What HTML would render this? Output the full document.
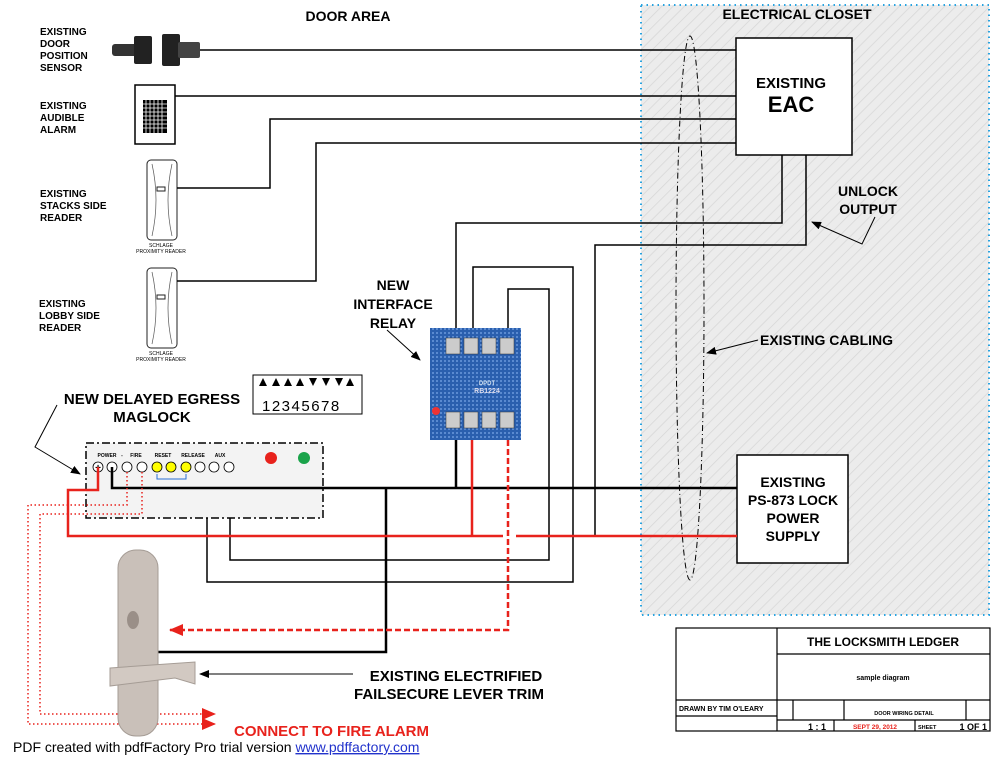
<!DOCTYPE html>
<html><head><meta charset="utf-8"><style>
body{margin:0;background:#fff}
svg{display:block;font-family:"Liberation Sans",Arial,sans-serif;font-weight:bold}
</style></head><body>
<svg width="1000" height="760" viewBox="0 0 1000 760" xmlns="http://www.w3.org/2000/svg">
<defs>
<pattern id="h" width="8" height="8" patternUnits="userSpaceOnUse" patternTransform="rotate(45)">
<rect width="8" height="8" fill="#ececec"/><line x1="0" y1="0" x2="0" y2="8" stroke="#d6d6d6" stroke-width="1.5"/>
</pattern>
<pattern id="pcb" width="4" height="4" patternUnits="userSpaceOnUse">
<rect width="4" height="4" fill="#2a5fae"/><rect width="2" height="2" fill="#5a8ad0"/>
</pattern>
<marker id="a" markerWidth="10" markerHeight="8" refX="9" refY="4" orient="auto" markerUnits="userSpaceOnUse"><path d="M0,0 L10,4 L0,8 Z" fill="#000"/></marker>
<marker id="ar" markerWidth="14" markerHeight="12" refX="13" refY="6" orient="auto" markerUnits="userSpaceOnUse"><path d="M0,0 L14,6 L0,12 Z" fill="#e8221c"/></marker>
</defs>

<rect x="641" y="5" width="348" height="610" fill="url(#h)" stroke="#29a3e0" stroke-width="2" stroke-dasharray="1.5 4"/>
<text x="797" y="19" font-size="14" text-anchor="middle">ELECTRICAL CLOSET</text>
<text x="348" y="21" font-size="14" text-anchor="middle">DOOR AREA</text>

<g font-size="10">
<text x="40" y="35">EXISTING</text><text x="40" y="47">DOOR</text><text x="40" y="59">POSITION</text><text x="40" y="71">SENSOR</text>
<text x="40" y="109">EXISTING</text><text x="40" y="121">AUDIBLE</text><text x="40" y="133">ALARM</text>
<text x="40" y="197">EXISTING</text><text x="40" y="209">STACKS SIDE</text><text x="40" y="221">READER</text>
<text x="39" y="307">EXISTING</text><text x="39" y="319">LOBBY SIDE</text><text x="39" y="331">READER</text>
</g>

<rect x="112" y="44" width="25" height="12" rx="3" fill="#333"/>
<rect x="134" y="36" width="18" height="28" rx="2" fill="#222"/>
<rect x="162" y="34" width="18" height="32" rx="2" fill="#222"/>
<rect x="178" y="42" width="22" height="16" rx="2" fill="#444"/>
<rect x="135" y="85" width="40" height="59" fill="#fff" stroke="#000" stroke-width="1.5"/>
<rect x="143" y="100" width="24" height="33" fill="#000"/>
<g stroke="#fff" stroke-width="0.8">
<line x1="146" y1="100" x2="146" y2="133"/><line x1="150" y1="100" x2="150" y2="133"/><line x1="154" y1="100" x2="154" y2="133"/><line x1="158" y1="100" x2="158" y2="133"/><line x1="162" y1="100" x2="162" y2="133"/>
<line x1="143" y1="104" x2="167" y2="104"/><line x1="143" y1="108" x2="167" y2="108"/><line x1="143" y1="112" x2="167" y2="112"/><line x1="143" y1="116" x2="167" y2="116"/><line x1="143" y1="120" x2="167" y2="120"/><line x1="143" y1="124" x2="167" y2="124"/><line x1="143" y1="128" x2="167" y2="128"/>
</g>
<g fill="#fff" stroke="#222" stroke-width="1">
<rect x="147" y="160" width="30" height="80" rx="4"/><rect x="157" y="187" width="8" height="4"/>
<rect x="147" y="268" width="30" height="80" rx="4"/><rect x="157" y="295" width="8" height="4"/>
</g>
<g fill="none" stroke="#555" stroke-width="0.7">
<path d="M152,164 Q160,200 152,236 M172,164 Q164,200 172,236"/>
<path d="M152,272 Q160,308 152,344 M172,272 Q164,308 172,344"/>
</g>
<g font-size="5" font-weight="normal" text-anchor="middle">
<text x="161" y="247">SCHLAGE</text><text x="161" y="253">PROXIMITY READER</text>
<text x="161" y="355">SCHLAGE</text><text x="161" y="361">PROXIMITY READER</text>
</g>

<rect x="736" y="38" width="116" height="117" fill="#fff" stroke="#000" stroke-width="1.5"/>
<text x="791" y="88" font-size="15" text-anchor="middle">EXISTING</text>
<text x="791" y="112" font-size="22" text-anchor="middle">EAC</text>

<g fill="none" stroke="#000" stroke-width="1.5">
<path d="M200,50 H736"/>
<path d="M175,96 H736"/>
<path d="M177,188 H270 V119 H736"/>
<path d="M177,281 H316 V143 H736"/>
<path d="M782,155 V223 H456 V330"/>
<path d="M806,155 V245 H595 V536"/>
<path d="M157,467 V503 H230 V560 H549 V289 H508 V330"/>
<path d="M171,467 V495 H207 V582 H573 V267 H473 V330"/>
</g>

<ellipse cx="690" cy="308" rx="14" ry="272" fill="none" stroke="#000" stroke-width="1" stroke-dasharray="6 3 1 3"/>

<text x="868" y="196" font-size="14" text-anchor="middle">UNLOCK</text>
<text x="868" y="214" font-size="14" text-anchor="middle">OUTPUT</text>
<path d="M875,217 L862,244 L812,222" fill="none" stroke="#000" stroke-width="1" marker-end="url(#a)"/>
<text x="760" y="345" font-size="14">EXISTING CABLING</text>
<path d="M758,340 L707,353" fill="none" stroke="#000" stroke-width="1" marker-end="url(#a)"/>

<rect x="737" y="455" width="111" height="108" fill="#fff" stroke="#000" stroke-width="1.5"/>
<g font-size="14" text-anchor="middle">
<text x="793" y="487">EXISTING</text><text x="793" y="505">PS-873 LOCK</text><text x="793" y="523">POWER</text><text x="793" y="541">SUPPLY</text>
</g>

<rect x="430" y="328" width="91" height="112" fill="url(#pcb)"/>
<g fill="#ccc" stroke="#333" stroke-width="0.5">
<rect x="446" y="338" width="14" height="16"/><rect x="464" y="338" width="14" height="16"/><rect x="482" y="338" width="14" height="16"/><rect x="500" y="338" width="14" height="16"/>
<rect x="446" y="412" width="14" height="16"/><rect x="464" y="412" width="14" height="16"/><rect x="482" y="412" width="14" height="16"/><rect x="500" y="412" width="14" height="16"/>
</g>
<circle cx="436" cy="411" r="4" fill="#e33"/>
<text x="487" y="385" font-size="6" fill="#cde" text-anchor="middle">DPDT</text>
<text x="487" y="393" font-size="7" fill="#dde" text-anchor="middle">RB1224</text>
<g font-size="14" text-anchor="middle">
<text x="393" y="290">NEW</text><text x="393" y="309">INTERFACE</text><text x="393" y="328">RELAY</text>
</g>
<path d="M387,330 L420,360" fill="none" stroke="#000" stroke-width="1" marker-end="url(#a)"/>

<rect x="253" y="375" width="109" height="39" fill="#fff" stroke="#000" stroke-width="1"/>
<g fill="#000">
<path d="M259,386 l4,-8 l4,8z M272,386 l4,-8 l4,8z M284,386 l4,-8 l4,8z M296,386 l4,-8 l4,8z M309,378 l4,8 l4,-8z M322,378 l4,8 l4,-8z M335,378 l4,8 l4,-8z M346,386 l4,-8 l4,8z"/>
</g>
<text x="262" y="411" font-size="15" font-weight="normal" letter-spacing="1.5">12345678</text>

<text x="152" y="404" font-size="15" text-anchor="middle">NEW DELAYED EGRESS</text>
<text x="152" y="422" font-size="15" text-anchor="middle">MAGLOCK</text>
<path d="M57,405 L35,447 L80,474" fill="none" stroke="#000" stroke-width="1" marker-end="url(#a)"/>
<rect x="86" y="443" width="237" height="75" fill="#f3f3f3" stroke="#000" stroke-width="1.5" stroke-dasharray="8 3 2 3"/>
<g font-size="5" text-anchor="middle">
<text x="107" y="457">POWER</text><text x="122" y="457">-</text><text x="136" y="457">FIRE</text><text x="163" y="457">RESET</text><text x="193" y="457">RELEASE</text><text x="220" y="457">AUX</text>
</g>
<g stroke="#000" stroke-width="0.8">
<circle cx="98" cy="467" r="5" fill="#fff"/><circle cx="112" cy="467" r="5" fill="#fff"/>
<circle cx="127" cy="467" r="5" fill="#fff"/><circle cx="142" cy="467" r="5" fill="#fff"/>
<circle cx="157" cy="467" r="5" fill="#ff0"/><circle cx="171" cy="467" r="5" fill="#ff0"/><circle cx="186" cy="467" r="5" fill="#ff0"/>
<circle cx="200" cy="467" r="5" fill="#fff"/><circle cx="214" cy="467" r="5" fill="#fff"/><circle cx="229" cy="467" r="5" fill="#fff"/>
</g>
<text x="98" y="471" font-size="10" text-anchor="middle">+</text>
<path d="M157,474 V479 H186 V474" fill="none" stroke="#2a6fd6" stroke-width="1"/>
<circle cx="271" cy="458" r="6" fill="#e8221c"/><circle cx="304" cy="458" r="6" fill="#1aa34a"/>

<path d="M112,467 V488 H737" fill="none" stroke="#000" stroke-width="2.5"/>
<path d="M456,440 V488" fill="none" stroke="#000" stroke-width="2.5"/>
<path d="M386,488 V652 H155" fill="none" stroke="#000" stroke-width="2.5"/>
<path d="M98,467 V490 H68 V536 H503 M516,536 H737" fill="none" stroke="#e8221c" stroke-width="2.5"/>
<path d="M472,440 V536" fill="none" stroke="#e8221c" stroke-width="2.5"/>
<path d="M508,440 V630 H170" fill="none" stroke="#e8221c" stroke-width="2.5" stroke-dasharray="6 3" marker-end="url(#ar)"/>
<path d="M127,472 V505 H28 V724 H215" fill="none" stroke="#e8221c" stroke-width="1.5" stroke-dasharray="1.5 2.5" marker-end="url(#ar)"/>
<path d="M142,472 V514 H40 V714 H215" fill="none" stroke="#e8221c" stroke-width="1.5" stroke-dasharray="1.5 2.5" marker-end="url(#ar)"/>

<rect x="118" y="550" width="40" height="186" rx="18" fill="#c9c0b9" stroke="#a59c95"/>
<ellipse cx="133" cy="620" rx="6" ry="9" fill="#9a8f88"/>
<path d="M110,668 L195,662 L195,684 L175,678 L110,686 Z" fill="#d2c9c2" stroke="#a59c95"/>
<text x="456" y="681" font-size="15" text-anchor="middle">EXISTING ELECTRIFIED</text>
<text x="449" y="699" font-size="15" text-anchor="middle">FAILSECURE LEVER TRIM</text>
<path d="M353,674 L200,674" fill="none" stroke="#000" stroke-width="1" marker-end="url(#a)"/>

<text x="234" y="736" font-size="15" fill="#e8221c">CONNECT TO FIRE ALARM</text>
<text x="13" y="752" font-size="14" font-weight="normal">PDF created with pdfFactory Pro trial version <tspan fill="#2233cc" text-decoration="underline">www.pdffactory.com</tspan></text>

<g fill="none" stroke="#000" stroke-width="1.2">
<rect x="676" y="628" width="314" height="103" fill="#fff"/>
<line x1="777" y1="628" x2="777" y2="731"/>
<line x1="777" y1="654" x2="990" y2="654"/>
<line x1="676" y1="700" x2="990" y2="700"/>
<line x1="676" y1="716" x2="777" y2="716"/>
<line x1="777" y1="720" x2="990" y2="720"/>
<line x1="793" y1="700" x2="793" y2="720"/>
<line x1="844" y1="700" x2="844" y2="720"/>
<line x1="966" y1="700" x2="966" y2="720"/>
<line x1="834" y1="720" x2="834" y2="731"/>
<line x1="915" y1="720" x2="915" y2="731"/>
</g>
<text x="883" y="646" font-size="12" text-anchor="middle">THE LOCKSMITH LEDGER</text>
<text x="883" y="680" font-size="7" text-anchor="middle">sample diagram</text>
<text x="679" y="711" font-size="7">DRAWN BY TIM O'LEARY</text>
<text x="904" y="715" font-size="5.5" text-anchor="middle">DOOR WIRING DETAIL</text>
<text x="826" y="730" font-size="9" text-anchor="end">1 : 1</text>
<text x="875" y="729" font-size="6.5" fill="#e8221c" text-anchor="middle">SEPT 29, 2012</text>
<text x="918" y="729" font-size="5.5">SHEET</text>
<text x="987" y="730" font-size="9" text-anchor="end">1 OF 1</text>
</svg>
</body></html>
